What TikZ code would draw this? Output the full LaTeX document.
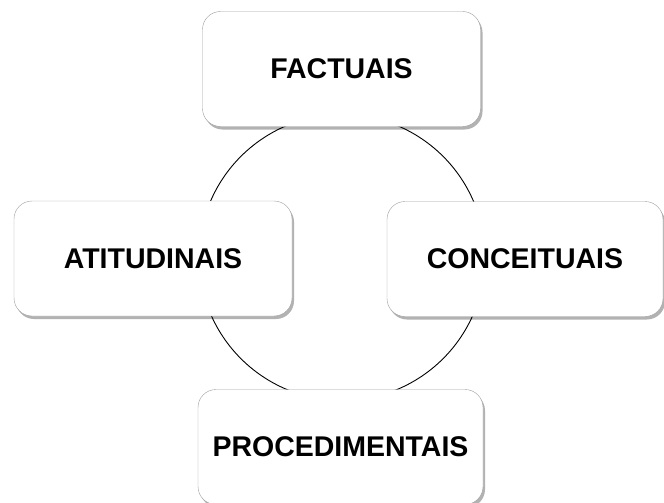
\documentclass[tikz,border=0pt]{standalone}
\usepackage{fontspec}
\setmainfont{Liberation Sans}
\usetikzlibrary{shadows}
\tikzset{
	caixa/.style = {draw=gray!75, fill=white, rectangle, rounded corners=18pt, minimum height=115pt, minimum width=278pt, inner sep=0pt, font=\bfseries\fontsize{28.5}{33}\selectfont, drop shadow={shadow xshift=2pt, shadow yshift=-3pt, fill=black, opacity=0.3}},
	anel/.style = {draw=black, line width=0.9pt}
}

\begin{document}
\begin{tikzpicture}[x=1pt,y=-1pt]
		\useasboundingbox (0,0) rectangle (664,503);
		\clip (0,0) rectangle (664,503);
		\coordinate (centro) at (342,257.5);
		\draw[anel] (centro) circle [radius=143];
		\node[caixa] (factuais) at (341.5,69) {FACTUAIS};
		\node[caixa] (atitudinais) at (153,258.5) {ATITUDINAIS};
		\node[caixa, minimum width=276pt] (conceituais) at (525,259) {CONCEITUAIS};
		\node[caixa, minimum width=285pt] (procedimentais) at (340.5,447) {PROCEDIMENTAIS};
	\end{tikzpicture}
\end{document}
